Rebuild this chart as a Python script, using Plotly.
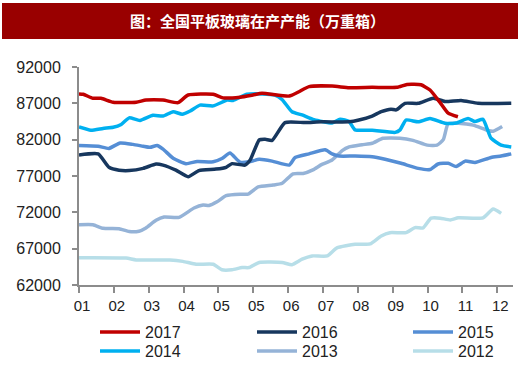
import plotly.graph_objects as go

# ---- data (x = month position along the axis, y = 万重箱) ----
tick_pos = list(range(13))
tick_labels = ["01", "02", "03", "04", "05", "05", "06", "07", "08", "09", "10", "11", "12"]

x2017 = [0, 0.12, 0.40, 0.63, 0.98, 1.64, 1.92, 2.41, 2.84, 3.13, 3.85, 4.13, 4.62, 4.99, 5.25,
         6.03, 6.31, 6.60, 7.26, 7.75, 8.41, 9.12, 9.41, 9.81, 10.07, 10.36, 10.59, 10.87]
y2017 = [88300, 88250, 87700, 87700, 87150, 87150, 87450, 87450, 87100, 88150, 88250, 87750, 87850, 88150, 88380,
         88000, 88600, 89300, 89380, 89150, 89200, 89200, 89600, 89550, 88830, 87100, 85650, 85150]

x2016 = [0, 0.55, 0.86, 1.15, 1.44, 1.84, 2.21, 2.41, 2.78, 3.13, 3.44, 3.93, 4.22, 4.39, 4.76, 4.91, 5.17,
         5.34, 5.54, 5.91, 6.49, 6.97, 7.75, 8.03, 8.41, 8.67, 8.95, 9.10, 9.35, 9.73, 10.16, 10.50, 10.96,
         11.45, 12.40]
y2016 = [79900, 80050, 78200, 77800, 77750, 78050, 78650, 78500, 77800, 76900, 77750, 77950, 78200, 78700,
         78500, 79200, 81950, 82050, 81900, 84350, 84350, 84450, 84450, 84700, 85250, 85850, 86200, 86100,
         87000, 87000, 87700, 87250, 87400, 87000, 87000]

x2015 = [0, 0.55, 0.86, 1.18, 1.55, 1.84, 2.04, 2.24, 2.41, 2.70, 3.07, 3.39, 3.85, 4.10, 4.33, 4.62, 4.88,
         5.17, 5.54, 6.03, 6.20, 6.60, 7.06, 7.26, 7.46, 7.92, 8.41, 8.78, 9.24, 9.73, 10.07, 10.30, 10.59,
         10.82, 11.08, 11.36, 11.82, 12.11, 12.40]
y2015 = [81200, 81100, 80800, 81550, 81350, 81100, 80950, 81200, 80700, 79450, 78700, 79000, 78950, 79400,
         80150, 78900, 78950, 79300, 79050, 78500, 79550, 80050, 80600, 80050, 79750, 79750, 79650, 79300,
         78750, 78050, 77900, 78650, 78750, 78300, 79050, 78850, 79550, 79750, 80050]

x2014 = [0, 0.34, 0.69, 0.98, 1.21, 1.44, 1.75, 2.12, 2.41, 2.70, 2.96, 3.19, 3.47, 3.85, 4.25, 4.42, 4.82,
         5.25, 5.62, 5.83, 6.11, 6.40, 6.74, 7.26, 7.49, 7.75, 7.92, 8.41, 9.07, 9.21, 9.38, 9.73, 10.07,
         10.50, 10.82, 11.16, 11.36, 11.59, 11.82, 12.11, 12.40]
y2014 = [83750, 83300, 83550, 83700, 84100, 85000, 84650, 85350, 85250, 85850, 85500, 85950, 86750, 86650,
         87450, 87400, 88250, 88300, 88150, 87500, 85850, 85400, 84750, 84300, 84800, 84500, 83350, 83300,
         83000, 83350, 84700, 84450, 84900, 84250, 84300, 84900, 84500, 84800, 82200, 81250, 81000]

x2013 = [0, 0.40, 0.69, 1.15, 1.44, 1.72, 1.92, 2.21, 2.44, 2.87, 3.30, 3.56, 3.73, 3.96, 4.22, 4.62, 4.85,
         5.14, 5.57, 5.83, 6.14, 6.43, 6.71, 6.97, 7.26, 7.55, 7.75, 8.12, 8.41, 8.72, 9.21, 9.58, 9.99,
         10.27, 10.45, 10.59, 10.88, 11.31, 11.71, 11.88, 12.14]
y2013 = [70300, 70300, 69800, 69750, 69350, 69400, 69850, 70900, 71350, 71300, 72600, 73000, 72950, 73450,
         74300, 74500, 74500, 75500, 75750, 76000, 77300, 77350, 77850, 78600, 79200, 80500, 81000, 81300,
         81500, 82200, 82200, 81900, 81250, 81250, 82000, 84200, 84250, 84000, 83300, 83150, 83800]

x2012 = [0, 1.35, 1.64, 2.61, 2.98, 3.36, 3.85, 4.10, 4.39, 4.68, 4.88, 5.17, 5.83, 6.11, 6.40, 6.69, 7.12,
         7.40, 7.92, 8.35, 8.67, 8.92, 9.38, 9.64, 9.87, 10.10, 10.36, 10.65, 10.88, 11.59, 11.88, 12.11]
y2012 = [65750, 65700, 65450, 65450, 65250, 64850, 64850, 64100, 64100, 64400, 64400, 65100, 65100, 64800,
         65550, 66000, 66000, 67100, 67600, 67650, 68750, 69200, 69200, 69900, 69850, 71200, 71200, 70950,
         71250, 71250, 72450, 71850]

series = [
    ("2017", x2017, y2017, "#C00000"),
    ("2016", x2016, y2016, "#17375E"),
    ("2015", x2015, y2015, "#558ED5"),
    ("2014", x2014, y2014, "#00B0F0"),
    ("2013", x2013, y2013, "#95B3D7"),
    ("2012", x2012, y2012, "#B7DEE8"),
]

W, H = 520, 373
L, R, T, B = 79, 7, 67, 88
PW, PH = W - L - R, H - T - B


def px_x(px):
    return (px - L) / PW


def px_y(py):
    return (H - B - py) / PH


legend_cols = [95, 252, 408]
legend_rows = [332, 351]

font_fam = "Liberation Sans, Arial, sans-serif"
fig = go.Figure()
legend_layouts = {}
for i, (name, xs, ys, col) in enumerate(reversed(series)):
    idx = len(series) - 1 - i
    lname = "legend" if idx == 0 else f"legend{idx + 1}"
    fig.add_trace(go.Scatter(x=xs, y=ys, name=name, mode="lines", legend=lname,
                             line=dict(color=col, width=3.5, shape="spline", smoothing=0.5)))
    legend_layouts[lname] = dict(
        xref="container", yref="container",
        x=legend_cols[idx % 3] / W, xanchor="left",
        y=1 - legend_rows[idx // 3] / H, yanchor="middle",
        orientation="h", bgcolor="rgba(0,0,0,0)", borderwidth=0,
        font=dict(family=font_fam, size=16, color="#222"), itemwidth=40)

fig.update_layout(
    width=W, height=H,
    margin=dict(l=L, r=R, t=T, b=B, autoexpand=False),
    paper_bgcolor="white", plot_bgcolor="white",
    showlegend=True,
    xaxis=dict(range=[0, 12.45], tickmode="array", tickvals=tick_pos, ticktext=tick_labels,
               automargin=False,
               showgrid=False, zeroline=False, showline=True, linecolor="#8C8C8C", linewidth=2,
               ticks="outside", ticklen=6, tickwidth=2, tickcolor="#8C8C8C",
               tickfont=dict(family=font_fam, size=15, color="#222"),
               ticklabelshift=3),
    yaxis=dict(range=[62000, 92000], tickmode="array",
               tickvals=[62000, 67000, 72000, 77000, 82000, 87000, 92000],
               ticktext=["62000", "67000", "72000", "77000", "82000", "87000", "92000"],
               automargin=False,
               showgrid=False, zeroline=False, showline=True, linecolor="#8C8C8C", linewidth=2,
               ticks="outside", ticklen=5, tickwidth=2, tickcolor="#8C8C8C",
               tickfont=dict(family=font_fam, size=16, color="#222"), ticklabelstandoff=8),
    shapes=[dict(type="rect", xref="paper", yref="paper",
                 x0=px_x(2), x1=px_x(518), y0=px_y(39), y1=px_y(3),
                 fillcolor="#990000", line=dict(width=0), layer="below")],
    annotations=[dict(text="<b>图：全国平板玻璃在产产能（万重箱）</b>", xref="paper", yref="paper",
                      x=px_x(257), y=px_y(21), xanchor="center", yanchor="middle",
                      showarrow=False,
                      font=dict(family="Noto Sans CJK SC", size=15, color="white"))],
)
fig.update_layout(**legend_layouts)

fig.write_html("out.html", config={"displayModeBar": False},
               post_script="document.body.style.margin='0';document.body.style.overflow='hidden';")
